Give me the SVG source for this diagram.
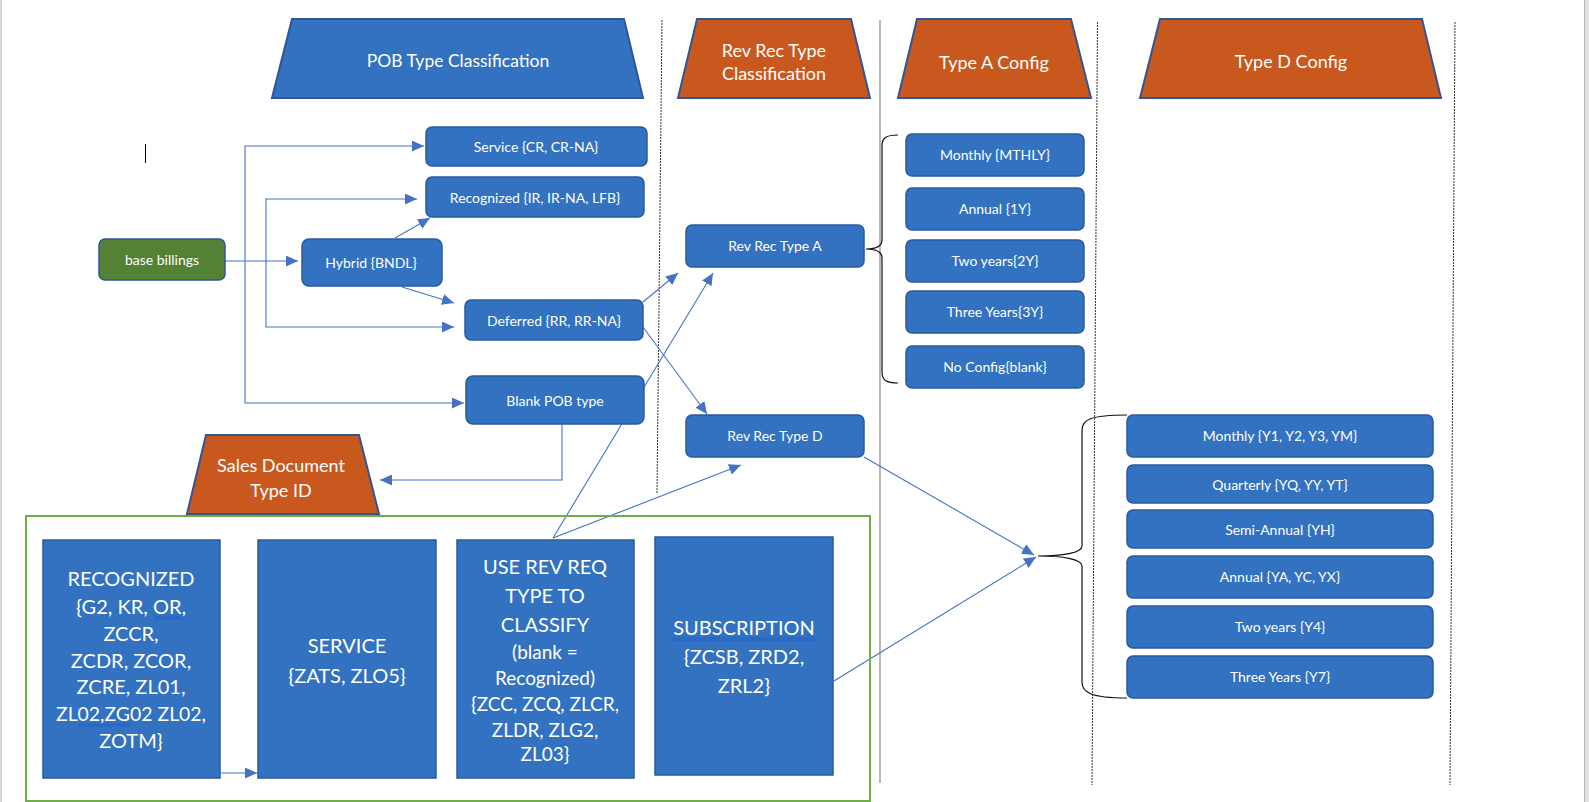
<svg xmlns="http://www.w3.org/2000/svg" width="1589" height="802" viewBox="0 0 1589 802">
<defs>
<style>
.box{fill:#3272C0;stroke:#2A5A9A;stroke-width:1.5}
.hdrB{fill:#3272C0;stroke:#2F5597;stroke-width:2}
.hdrO{fill:#C8581E;stroke:#2F5597;stroke-width:2}
.green{fill:#538135;stroke:#2F5597;stroke-width:1.5}
.t{font-family:Lato,"Liberation Sans",sans-serif;fill:#fff;text-anchor:middle}
.s{font-size:14px}
.h{font-size:18px}
.b{font-size:20px}
.m{font-size:19px}
.c{fill:none;stroke:#4472C4;stroke-width:1.1}
.ca{fill:none;stroke:#4472C4;stroke-width:1.1;marker-end:url(#ah)}
.div{fill:none;stroke:#333;stroke-width:1;stroke-dasharray:2 1}
.brace{fill:none;stroke:#111;stroke-width:1.2}
.ul{stroke:#2060D0;stroke-width:1}
</style>
<marker id="ah" viewBox="0 0 12 11" refX="12" refY="5.5" markerWidth="12" markerHeight="11" orient="auto" markerUnits="userSpaceOnUse"><path d="M0,0 L12,5.5 L0,11 z" fill="#4472C4"/></marker>
</defs>
<rect x="0" y="0" width="1589" height="802" fill="#fff"/>
<rect x="0" y="0" width="2" height="802" fill="#d4d4d4"/>
<rect x="1584" y="0" width="5" height="802" fill="#e2e2e2"/>
<line x1="1584.5" y1="0" x2="1584.5" y2="802" stroke="#bbb" stroke-width="1"/>
<line x1="145.5" y1="144" x2="145.5" y2="163" stroke="#000" stroke-width="1"/>
<g id="dividers">
<path class="div" d="M662,20 L657,494"/>
<path d="M880,20 L880,783" fill="none" stroke="#888" stroke-width="1.2"/>
<path class="div" d="M1097.5,22 L1092,785"/>
<path class="div" d="M1455,22 L1450,785"/>
</g>
<g id="connectors">
<path class="ca" d="M225,261 H298"/>
<path class="ca" d="M245,261 V146 H424"/>
<path class="ca" d="M245,261 V403 H464"/>
<path class="ca" d="M266,261 V199 H417"/>
<path class="ca" d="M266,261 V327 H454"/>
<path class="ca" d="M395,238 L430,218"/>
<path class="ca" d="M402,287 L454,303"/>
<path class="ca" d="M643,302 L678,273"/>
<path class="ca" d="M553,538 L713,273"/>
<path class="ca" d="M643,327 L707,414"/>
<path class="ca" d="M553,538 L741,465"/>
<path class="ca" d="M864,457 L1034,555"/>
<path class="ca" d="M834,681 L1036,557"/>
<path class="ca" d="M562,424 V480 H380"/>
<path class="ca" d="M221,773 H257"/>
<path class="brace" d="M898,135 C886,135 882,138 882,146 V240 C882,246 876,249 866,249 C876,249 882,252 882,258 V372 C882,380 886,383 898,383"/>
<path class="brace" d="M1127,415 C1090,415 1082,420 1082,430 V546 C1082,553 1062,556 1038,556 C1062,556 1082,559 1082,566 V682 C1082,692 1090,698 1127,698"/>
</g>
<g id="hdr-pob"><polygon class="hdrB" points="292,19 624,19 643,98 272,98"/><text class="t" x="458" y="67" style="font-size:17.5px">POB Type Classification</text></g>
<g id="hdr-revrec"><polygon class="hdrO" points="697,19 851,19 870,98 678,98"/><text class="t h" x="774" y="57">Rev Rec Type</text><text class="t h" x="774" y="80">Classification</text></g>
<g id="hdr-typea"><polygon class="hdrO" points="917,19 1071,19 1091,98 898,98"/><text class="t h" x="994" y="69">Type A Config</text></g>
<g id="hdr-typed"><polygon class="hdrO" points="1160,19 1422,19 1441,98 1140,98"/><text class="t h" x="1291" y="68">Type D Config</text></g>
<g id="base-billings"><rect class="green" x="99" y="239" width="126" height="41" rx="6"/><text class="t s" x="162" y="265">base billings</text></g>
<g id="service"><rect class="box" x="426" y="127" width="221" height="39" rx="6"/><text class="t s" x="536" y="152">Service {CR, CR-NA}</text></g>
<g id="recognized"><rect class="box" x="426" y="177" width="218" height="40" rx="6"/><text class="t s" x="535" y="203">Recognized {IR, IR-NA, LFB}</text></g>
<g id="hybrid"><rect class="box" x="302" y="239" width="140" height="47" rx="7"/><text class="t s" x="371" y="268">Hybrid {BNDL}</text></g>
<g id="deferred"><rect class="box" x="465" y="300" width="178" height="40" rx="6"/><text class="t s" x="554" y="326">Deferred {RR, RR-NA}</text></g>
<g id="blank-pob"><rect class="box" x="466" y="376" width="178" height="48" rx="7"/><text class="t s" x="555" y="406">Blank POB type</text></g>
<g id="rev-rec-a"><rect class="box" x="686" y="225" width="178" height="42" rx="6"/><text class="t s" x="775" y="251">Rev Rec Type A</text></g>
<g id="rev-rec-d"><rect class="box" x="686" y="415" width="178" height="42" rx="6"/><text class="t s" x="775" y="441">Rev Rec Type D</text></g>
<g id="a-monthly"><rect class="box" x="906" y="134" width="178" height="42" rx="6"/><text class="t s" x="995" y="160">Monthly {MTHLY}</text></g>
<g id="a-annual"><rect class="box" x="906" y="188" width="178" height="42" rx="6"/><text class="t s" x="995" y="214">Annual {1Y}</text></g>
<g id="a-two"><rect class="box" x="906" y="240" width="178" height="42" rx="6"/><text class="t s" x="995" y="266">Two years{2Y}</text></g>
<g id="a-three"><rect class="box" x="906" y="291" width="178" height="42" rx="6"/><text class="t s" x="995" y="317">Three Years{3Y}</text></g>
<g id="a-none"><rect class="box" x="906" y="346" width="178" height="42" rx="6"/><text class="t s" x="995" y="372">No Config{blank}</text></g>
<g id="d-monthly"><rect class="box" x="1127" y="415" width="306" height="42" rx="6"/><text class="t s" x="1280" y="441">Monthly {Y1, Y2, Y3, YM}</text></g>
<g id="d-quarterly"><rect class="box" x="1127" y="465" width="306" height="38" rx="6"/><text class="t s" x="1280" y="490">Quarterly {YQ, YY, YT}</text></g>
<g id="d-semi"><rect class="box" x="1127" y="510" width="306" height="38" rx="6"/><text class="t s" x="1280" y="535">Semi-Annual {YH}</text></g>
<g id="d-annual"><rect class="box" x="1127" y="556" width="306" height="42" rx="6"/><text class="t s" x="1280" y="582">Annual {YA, YC, YX}</text></g>
<g id="d-two"><rect class="box" x="1127" y="606" width="306" height="42" rx="6"/><text class="t s" x="1280" y="632">Two years {Y4}</text></g>
<g id="d-three"><rect class="box" x="1127" y="656" width="306" height="42" rx="6"/><text class="t s" x="1280" y="682">Three Years {Y7}</text></g>
<g id="sales-doc"><polygon class="hdrO" points="206,435 359,435 379,514 187,514"/><text class="t h" x="281" y="472">Sales Document</text><text class="t h" x="281" y="497">Type ID</text></g>
<g id="doc-types">
<rect x="26" y="516" width="844" height="285" fill="none" stroke="#70AD47" stroke-width="2"/>
</g>
<g id="doc-recognized"><rect class="box" x="43" y="540" width="177" height="238"/>
<text class="t b" x="131" y="586">RECOGNIZED</text>
<text class="t b" x="131" y="614">{G2, KR, OR,</text>
<text class="t b" x="131" y="641">ZCCR,</text>
<text class="t b" x="131" y="668">ZCDR, ZCOR,</text>
<text class="t b" x="131" y="694">ZCRE, ZL01,</text>
<text class="t" x="131" y="721" style="font-size:19.4px">ZL02,ZG02 ZL02,</text>
<text class="t b" x="131" y="748">ZOTM}</text>
<line class="ul" x1="154" y1="617" x2="184" y2="617"/><line class="ul" x1="154" y1="619" x2="184" y2="619"/>
<line class="ul" x1="78" y1="724" x2="130" y2="724"/><line class="ul" x1="78" y1="726" x2="130" y2="726"/>
</g>
<g id="doc-service"><rect class="box" x="258" y="540" width="178" height="238"/>
<text class="t b" x="347" y="653">SERVICE</text>
<text class="t b" x="347" y="683">{ZATS, ZLO5}</text>
</g>
<g id="doc-userev"><rect class="box" x="457" y="540" width="177" height="238"/>
<text class="t b" x="545" y="574">USE REV REQ</text>
<text class="t b" x="545" y="603">TYPE TO</text>
<text class="t b" x="545" y="632">CLASSIFY</text>
<text class="t m" x="545" y="659">(blank =</text>
<text class="t m" x="545" y="685">Recognized)</text>
<text class="t m" x="545" y="711">{ZCC, ZCQ, ZLCR,</text>
<text class="t m" x="545" y="737">ZLDR, ZLG2,</text>
<text class="t m" x="545" y="761">ZL03}</text>
</g>
<g id="doc-subscription"><rect class="box" x="655" y="537" width="178" height="238"/>
<text class="t b" x="744" y="635">SUBSCRIPTION</text>
<text class="t b" x="744" y="664">{ZCSB, ZRD2,</text>
<text class="t b" x="744" y="693">ZRL2}</text>
<line class="ul" x1="672" y1="638" x2="816" y2="638"/><line class="ul" x1="672" y1="640" x2="816" y2="640"/>
<line class="ul" x1="682" y1="668" x2="690" y2="668"/>
</g>
</svg>
